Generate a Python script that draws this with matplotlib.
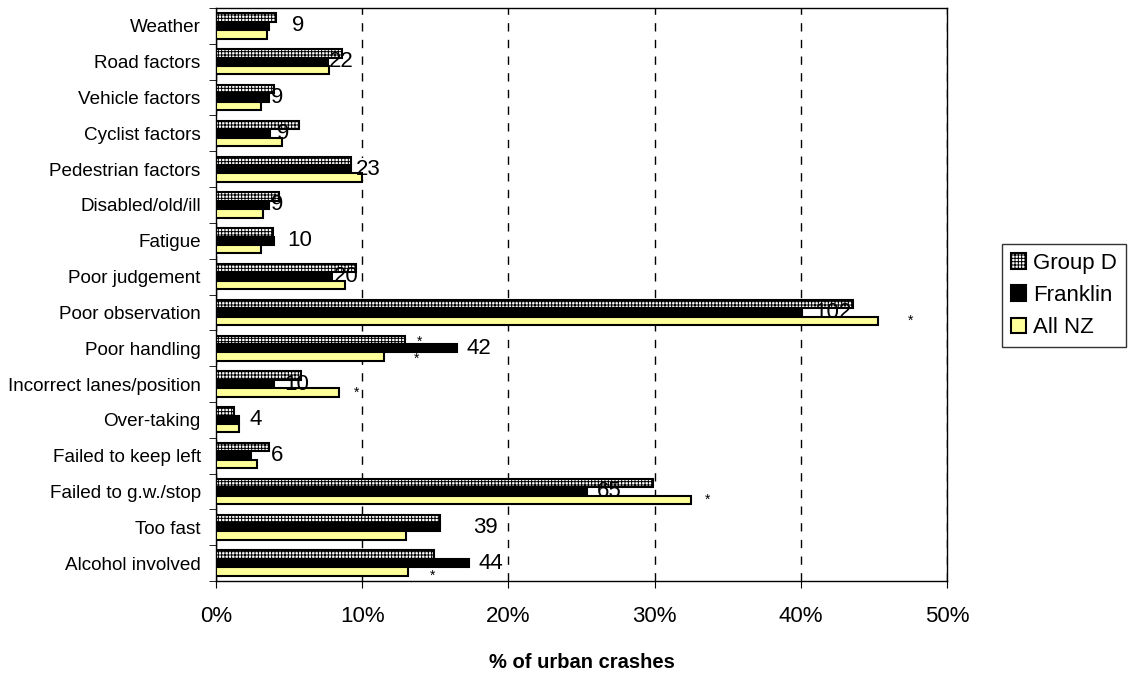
import numpy as np
import matplotlib
matplotlib.use('Agg')
import matplotlib.pyplot as plt

plt.rcParams['font.family'] = ['Liberation Sans', 'DejaVu Sans']
plt.rcParams['hatch.linewidth'] = 0.7

# data, top row first
categories = ['Weather', 'Road factors', 'Vehicle factors', 'Cyclist factors',
              'Pedestrian factors', 'Disabled/old/ill', 'Fatigue', 'Poor judgement',
              'Poor observation', 'Poor handling', 'Incorrect lanes/position',
              'Over-taking', 'Failed to keep left', 'Failed to g.w./stop',
              'Too fast', 'Alcohol involved']
group_d = [4.1, 8.6, 4.0, 5.7, 9.2, 4.3, 3.9, 9.6, 43.6, 12.9, 5.8, 1.2, 3.6, 29.9, 15.3, 14.9]
franklin = [3.6, 8.6, 3.6, 3.7, 9.2, 3.6, 4.0, 8.1, 40.1, 16.5, 4.0, 1.6, 2.4, 25.4, 15.3, 17.3]
all_nz = [3.5, 7.7, 3.1, 4.5, 10.0, 3.2, 3.1, 8.8, 45.3, 11.5, 8.4, 1.6, 2.8, 32.5, 13.0, 13.1]
counts = ['9', '22', '9', '9', '23', '9', '10', '20', '102', '42', '10', '4', '6', '65', '39', '44']
count_x = [5.6, 8.6, 4.2, 4.6, 10.4, 4.2, 5.7, 8.9, 42.2, 18.0, 5.5, 2.7, 4.2, 26.9, 18.4, 18.8]
# significance stars: (category, series offset, x)
stars = [('Poor observation', -1.0, 47.5),
         ('Poor handling', 0.8, 13.9), ('Poor handling', -1.3, 13.7),
         ('Incorrect lanes/position', -1.0, 9.6),
         ('Failed to g.w./stop', -1.0, 33.6),
         ('Alcohol involved', -1.5, 14.8)]

n = len(categories)
y = np.arange(n)[::-1]
h = 0.235

fig = plt.figure(figsize=(11.31, 6.73), dpi=100)
ax = fig.add_axes([216/1131, 1-581/673, (947-216)/1131, (581-8)/673])

ax.barh(y + h, group_d, height=h, color='white', edgecolor='black', hatch='+++++',
        linewidth=1.5, label='Group D', zorder=3)
ax.barh(y, franklin, height=h, color='black', edgecolor='black',
        linewidth=1.5, label='Franklin', zorder=2)
ax.barh(y - h, all_nz, height=h, color='#ffff99', edgecolor='black',
        linewidth=1.5, label='All NZ', zorder=3)

for i in range(n):
    # white label box sits over the Franklin bar only, digits on top of everything
    ax.text(count_x[i], y[i], counts[i], ha='center', va='center', fontsize=16,
            color='none', bbox=dict(facecolor='white', edgecolor='none', pad=0.5),
            zorder=2.5)
    ax.text(count_x[i], y[i], counts[i], ha='center', va='center', fontsize=16,
            zorder=5)

for cat, off, xs in stars:
    yi = y[categories.index(cat)]
    ax.text(xs, yi + off * h, '*', ha='center', va='center', fontsize=10, zorder=4)

ax.set_xlim(0, 50)
ax.set_ylim(-0.5, n - 0.5)
ax.set_xticks([0, 10, 20, 30, 40, 50])
ax.set_xticklabels(['0%', '10%', '20%', '30%', '40%', '50%'], fontsize=16)
ax.tick_params(axis='x', length=5, pad=13)
ax.set_yticks(y)
ax.set_yticklabels(categories, fontsize=13.6)
ax.set_yticks(np.arange(n + 1) - 0.5, minor=True)
ax.tick_params(axis='y', which='major', length=0, pad=11)
ax.tick_params(axis='y', which='minor', length=5)
ax.xaxis.grid(True, linestyle=(0, (6, 6)), color='black', linewidth=1)
ax.set_axisbelow(True)
for s in ax.spines.values():
    s.set_linewidth(1)
ax.set_xlabel('% of urban crashes', fontsize=14.5, fontweight='bold', labelpad=19)

leg = fig.legend(loc='upper left', bbox_to_anchor=(1002/1131, 1-244/673),
                 fontsize=16, frameon=True, fancybox=False, edgecolor='black',
                 handlelength=0.7, handleheight=0.7, handletextpad=0.3,
                 labelspacing=0.5, borderpad=0.4, borderaxespad=0)
leg.get_frame().set_linewidth(1)

fig.savefig('out.png', dpi=100)
